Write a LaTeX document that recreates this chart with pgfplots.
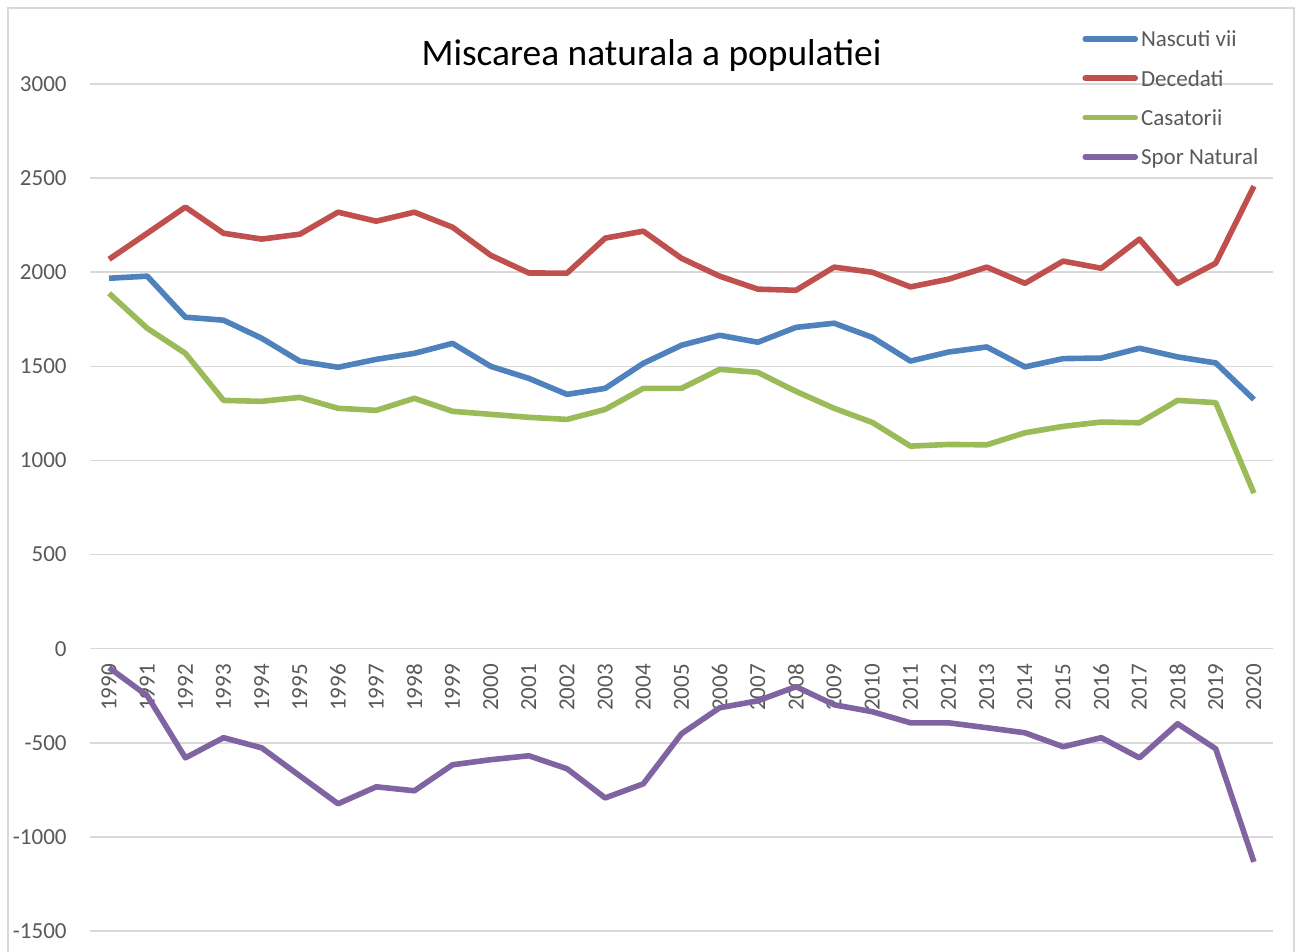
\documentclass[border=0pt]{standalone}
\usepackage{pgfplots}
\pgfplotsset{compat=1.18}
\usepackage{fontspec}
\setmainfont{Carlito}
\definecolor{cblue}{HTML}{4F81BD}
\definecolor{cred}{HTML}{C0504D}
\definecolor{cgreen}{HTML}{9BBB59}
\definecolor{cpurple}{HTML}{8064A2}
\definecolor{txt}{HTML}{595959}
\definecolor{gridc}{HTML}{D9D9D9}
\begin{document}
\begin{tikzpicture}
\path[use as bounding box] (0,0) rectangle (650.5pt,476pt);
\draw[gridc, line width=0.75pt] (4pt,-5pt) rectangle (647pt,472pt);
\node[font=\fontsize{18.7}{21}\selectfont, text=black] at (325.75pt,448pt) {Miscarea naturala a populatiei};
\begin{axis}[
  at={(45pt,10.5pt)}, anchor=south west, scale only axis,
  width=591.5pt, height=423.5pt,
  xmin=1989.5, xmax=2020.5, ymin=-1500, ymax=3000,
  axis x line=middle, axis y line=left, axis line style={draw=none},
  hide obscured x ticks=false, hide obscured y ticks=false,
  xtick={1990,...,2020}, ytick={-1500,-1000,...,3000},
  major tick length=0pt,
  ymajorgrids, grid style={gridc, line width=0.75pt},
  /pgf/number format/1000 sep={}, /pgf/number format/assume math mode=true,
  ticklabel style={font=\fontsize{11.5}{13}\selectfont, text=txt},
  yticklabel style={anchor=east, inner sep=0pt, xshift=-11.5pt},
  xticklabel style={yshift=-7.5pt, rotate=90, anchor=east, inner sep=0pt},
  clip=false,
  legend style={at={(0.8386,1.0667)}, anchor=north west, draw=none, fill=none,
    font=\fontsize{11.5}{13}\selectfont, text=txt, inner sep=0pt,
    row sep=7.2pt, nodes={inner sep=1.5pt}},
  legend cell align=left,
  legend image code/.code={\draw[#1, line cap=round] (0pt,0.7pt) -- (25pt,0.7pt);},
  every axis plot/.append style={line width=2.8pt, line join=round, mark=none},
]
\addplot[cblue] coordinates {
(1990,1968) (1991,1979) (1992,1761) (1993,1745) (1994,1649) (1995,1527) (1996,1495) (1997,1537) (1998,1569) (1999,1622)
(2000,1500) (2001,1436) (2002,1351) (2003,1383) (2004,1516) (2005,1612) (2006,1665) (2007,1628) (2008,1707) (2009,1729)
(2010,1654) (2011,1528) (2012,1576) (2013,1603) (2014,1497) (2015,1541) (2016,1544) (2017,1596) (2018,1550) (2019,1518) (2020,1324)};
\addlegendentry{Nascuti vii}
\addplot[cred] coordinates {
(1990,2069) (1991,2207) (1992,2346) (1993,2207) (1994,2176) (1995,2202) (1996,2319) (1997,2271) (1998,2319) (1999,2239)
(2000,2090) (2001,1996) (2002,1995) (2003,2181) (2004,2218) (2005,2074) (2006,1979) (2007,1910) (2008,1904) (2009,2027)
(2010,2000) (2011,1922) (2012,1963) (2013,2027) (2014,1941) (2015,2059) (2016,2021) (2017,2176) (2018,1941) (2019,2048) (2020,2457)};
\addlegendentry{Decedati}
\addplot[cgreen] coordinates {
(1990,1888) (1991,1702) (1992,1569) (1993,1319) (1994,1314) (1995,1335) (1996,1277) (1997,1266) (1998,1330) (1999,1261)
(2000,1245) (2001,1229) (2002,1218) (2003,1271) (2004,1383) (2005,1383) (2006,1484) (2007,1468) (2008,1367) (2009,1277)
(2010,1202) (2011,1076) (2012,1085) (2013,1083) (2014,1147) (2015,1181) (2016,1204) (2017,1200) (2018,1319) (2019,1307) (2020,826)};
\addlegendentry{Casatorii}
\addplot[cpurple] coordinates {
(1990,-101) (1991,-250) (1992,-580) (1993,-473) (1994,-527) (1995,-676) (1996,-824) (1997,-734) (1998,-755) (1999,-617)
(2000,-590) (2001,-569) (2002,-638) (2003,-793) (2004,-718) (2005,-452) (2006,-314) (2007,-277) (2008,-202) (2009,-298)
(2010,-335) (2011,-394) (2012,-394) (2013,-420) (2014,-447) (2015,-521) (2016,-473) (2017,-580) (2018,-399) (2019,-532) (2020,-1133)};
\addlegendentry{Spor Natural}
\end{axis}
\end{tikzpicture}
\end{document}
